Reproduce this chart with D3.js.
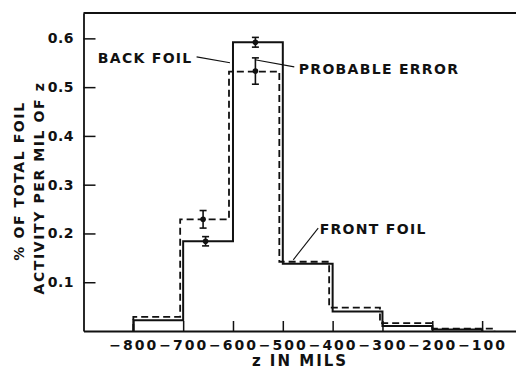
<!DOCTYPE html>
<html>
<head>
<meta charset="utf-8">
<script src="https://cdn.jsdelivr.net/npm/d3@7"></script>
<style>
  body { margin: 0; background: #fff; }
  svg text { font-family: "DejaVu Sans", sans-serif; font-weight: bold; fill: #111; }
</style>
</head>
<body>
<div id="chart"></div>
<script>
// histogram bins (mils) and values (% of total foil activity per mil of z)
const solidEdges = [-800, -700, -600, -500, -400, -300, -200, -100];
const solidVals = [0.022, 0.184, 0.592, 0.138, 0.040, 0.010, 0.003];
const dashedEdges = [-800, -706, -608, -507, -407, -305, -200, -75];
const dashedVals = [0.029, 0.229, 0.532, 0.142, 0.048, 0.016, 0.005];

// points with probable error
const solidErrZ = [-655, -555];
const solidErrV = [0.184, 0.592];
const solidErrE = [0.0095, 0.010];
const dashedErrZ = [-660, -555];
const dashedErrV = [0.229, 0.533];
const dashedErrE = [0.018, 0.027];

const xTicks = [-800, -700, -600, -500, -400, -300, -200, -100];
const yTicks = [0.1, 0.2, 0.3, 0.4, 0.5, 0.6];

const W = 516, H = 370;
const padLeft = 83.5, padTop = 13, axisY = 331;

const svg = d3.select("#chart").append("svg")
  .attr("width", W).attr("height", H);

const x = d3.scaleLinear().domain([-900, -32]).range([padLeft, W]);
const y = d3.scaleLinear().domain([0, 0.652]).range([axisY, padTop]);

// frame top line
svg.append("line")
  .attr("x1", padLeft).attr("x2", W)
  .attr("y1", padTop).attr("y2", padTop)
  .attr("stroke", "#111").attr("stroke-width", 1.8);

// axes
const xAxis = svg.append("g")
  .attr("transform", `translate(0,${axisY})`)
  .call(d3.axisBottom(x).tickValues(xTicks).tickSizeInner(-10).tickSizeOuter(0)
    .tickPadding(9).tickFormat(d => "\u2212" + Math.abs(d)));
xAxis.select(".domain").attr("stroke", "#111").attr("stroke-width", 1.8);
xAxis.selectAll(".tick line").attr("stroke", "#111").attr("stroke-width", 1.5);
xAxis.selectAll("text").style("font-size", "14px").style("letter-spacing", "2px")
  .attr("fill", "#111");

const yAxis = svg.append("g")
  .attr("transform", `translate(${padLeft},0)`)
  .call(d3.axisLeft(y).tickValues(yTicks).tickSizeInner(-12).tickSizeOuter(0)
    .tickPadding(9.5).tickFormat(d3.format(".1f")));
yAxis.select(".domain").attr("stroke", "#111").attr("stroke-width", 1.8);
yAxis.selectAll(".tick line").attr("stroke", "#111").attr("stroke-width", 1.5);
yAxis.selectAll("text").style("font-size", "14px").style("letter-spacing", "0.5px")
  .attr("fill", "#111");

// step outline from edges + values
const stepPoints = (edges, vals) => {
  let pts = [[edges[0], 0]];
  vals.forEach((v, i) => {
    pts.push([edges[i], v]);
    pts.push([edges[i + 1], v]);
  });
  pts.push([edges[edges.length - 1], 0]);
  return pts;
};

const line = d3.line().x(d => x(d[0])).y(d => y(d[1]));

svg.append("path")
  .datum(stepPoints(dashedEdges, dashedVals))
  .attr("d", line)
  .attr("fill", "none")
  .attr("stroke", "#111")
  .attr("stroke-width", 1.8)
  .attr("stroke-dasharray", "7,4");

svg.append("path")
  .datum(stepPoints(solidEdges, solidVals))
  .attr("d", line)
  .attr("fill", "none")
  .attr("stroke", "#111")
  .attr("stroke-width", 2);

// error bars
const drawErr = (zs, vs, es) => {
  const g = svg.append("g");
  zs.forEach((z, i) => {
    const cx = x(z);
    g.append("line")
      .attr("x1", cx).attr("x2", cx)
      .attr("y1", y(vs[i] - es[i])).attr("y2", y(vs[i] + es[i]))
      .attr("stroke", "#111").attr("stroke-width", 1.6);
    [vs[i] - es[i], vs[i] + es[i]].forEach(v => {
      g.append("line")
        .attr("x1", cx - 3.5).attr("x2", cx + 3.5)
        .attr("y1", y(v)).attr("y2", y(v))
        .attr("stroke", "#111").attr("stroke-width", 1.6);
    });
    g.append("circle")
      .attr("cx", cx).attr("cy", y(vs[i])).attr("r", 2.8)
      .attr("fill", "#111");
  });
};
drawErr(solidErrZ, solidErrV, solidErrE);
drawErr(dashedErrZ, dashedErrV, dashedErrE);

// annotations (data coords)
const notes = [
  { text: "BACK FOIL", tz: -681, tv: 0.55, anchor: "end", from: [-673, 0.562], to: [-606, 0.550] },
  { text: "PROBABLE ERROR", tz: -468, tv: 0.527, anchor: "start", from: [-556, 0.556], to: [-477, 0.5415] },
  { text: "FRONT FOIL", tz: -426, tv: 0.199, anchor: "start", from: [-479, 0.146], to: [-429, 0.211] }
];
notes.forEach(n => {
  svg.append("line")
    .attr("x1", x(n.from[0])).attr("y1", y(n.from[1]))
    .attr("x2", x(n.to[0])).attr("y2", y(n.to[1]))
    .attr("stroke", "#111").attr("stroke-width", 1.1);
  svg.append("text")
    .attr("x", x(n.tz)).attr("y", y(n.tv))
    .attr("text-anchor", n.anchor)
    .style("font-size", "14px")
    .style("letter-spacing", "1.3px")
    .text(n.text);
});

// axis titles
svg.append("text")
  .attr("x", 300).attr("y", 366)
  .attr("text-anchor", "middle")
  .style("font-size", "15px").style("letter-spacing", "2px")
  .text("z IN MILS");

svg.append("text")
  .attr("transform", "translate(24,181) rotate(-90)")
  .attr("text-anchor", "middle")
  .style("font-size", "14px").style("letter-spacing", "1.6px")
  .text("% OF TOTAL FOIL");

svg.append("text")
  .attr("transform", "translate(44,188) rotate(-90)")
  .attr("text-anchor", "middle")
  .style("font-size", "14px").style("letter-spacing", "1.6px")
  .text("ACTIVITY PER MIL OF z");
</script>
</body>
</html>
